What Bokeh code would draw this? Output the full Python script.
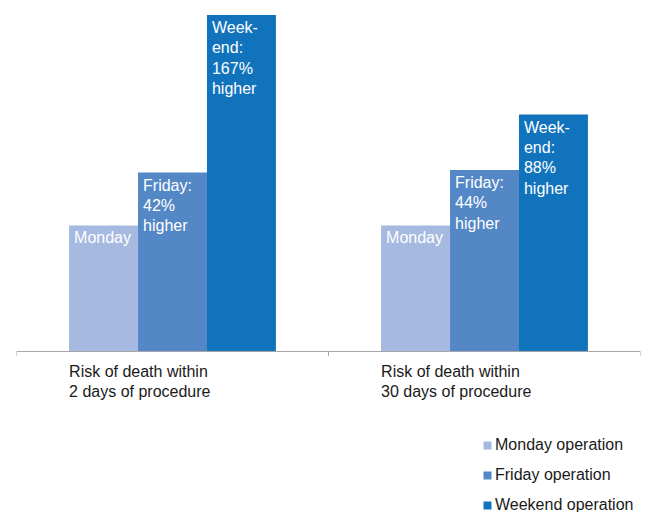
from bokeh.plotting import figure
from bokeh.models import ColumnDataSource, FactorRange, Range1d, Span
from bokeh.transform import dodge
from bokeh.core.properties import value
from bokeh.embed import file_html
from bokeh.resources import INLINE

# ---- data ----
groups = ["2 days", "30 days"]
group_labels = ["Risk of death within\n2 days of procedure",
                "Risk of death within\n30 days of procedure"]
series = ["Monday operation", "Friday operation", "Weekend operation"]
monday = [1.0, 1.0]
friday = [1.42, 1.44]
weekend = [2.67, 1.88]
monday_text = ["Monday", "Monday"]
friday_text = ["Friday:\n42%\nhigher", "Friday:\n44%\nhigher"]
weekend_text = ["Week-\nend:\n167%\nhigher", "Week-\nend:\n88%\nhigher"]
colors = ["#a6b9e0", "#5387c6", "#1273bd"]

FONT = "Liberation Sans"
BW = 0.221

src = ColumnDataSource(dict(group=groups, label=group_labels,
                            monday=monday, friday=friday, weekend=weekend,
                            mt=monday_text, ft=friday_text, wt=weekend_text,
                            zero=[0, 0]))

p = figure(width=648, height=512, x_range=FactorRange(*groups),
           y_range=Range1d(-1.278, 2.722), output_backend="svg",
           toolbar_location=None, x_axis_location=None, y_axis_location=None,
           min_border_left=16, min_border_right=8, min_border_top=8,
           min_border_bottom=0)
p.outline_line_color = None
p.xgrid.visible = False
p.ygrid.visible = False
p.background_fill_color = "white"

cols = ["monday", "friday", "weekend"]
texts = ["mt", "ft", "wt"]
offsets = [-BW, 0.0, BW]
for col, txt, off, c, name in zip(cols, texts, offsets, colors, series):
    p.vbar(x=dodge("group", off, range=p.x_range), top=col, width=BW,
           source=src, fill_color=c, line_color=None, legend_label=name)
    p.text(x=dodge("group", off - BW / 2, range=p.x_range), y=col, text=txt,
           source=src, x_offset=5, y_offset=4, text_baseline="top",
           text_align="left", text_color="white",
           text_font=value(FONT), text_font_size="16px",
           text_line_height=1.2)

# axis baseline and ticks
p.add_layout(Span(location=0, dimension="width", line_color="#a6a6a6",
                  line_width=1))
for off in (-0.5, 0.5):
    p.segment(x0=dodge("group", off, range=p.x_range), y0="zero",
              x1=dodge("group", off, range=p.x_range), y1=-0.035,
              source=src, line_color="#a6a6a6", line_width=1)

# category labels
p.text(x=dodge("group", -BW - BW / 2, range=p.x_range), y="zero",
       text="label", source=src, y_offset=12, text_baseline="top",
       text_align="left", text_color="#1a1a1a", text_font=value(FONT),
       text_font_size="16px", text_line_height=1.15)

lg = p.legend[0]
lg.location = (466, -3)
lg.margin = 0
lg.padding = 0
lg.border_line_color = None
lg.background_fill_alpha = 0
lg.glyph_width = 10
lg.glyph_height = 10
lg.label_height = 20
lg.spacing = 10
lg.label_standoff = 3
lg.label_text_font = FONT
lg.label_text_font_size = "16px"
lg.label_text_color = "#1a1a1a"

open("out.html", "w").write(file_html(p, INLINE))
